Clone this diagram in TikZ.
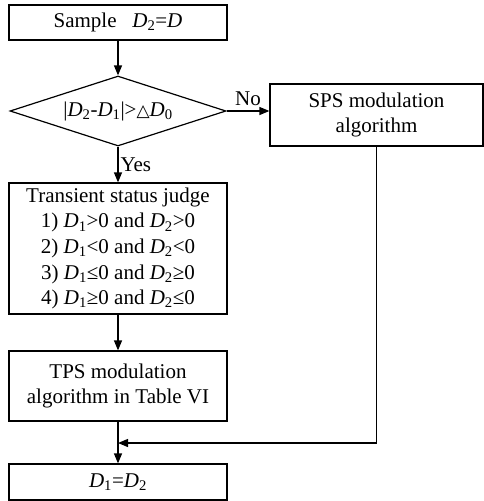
\documentclass[tikz,border=0pt]{standalone}
\usepackage{fontspec}
\setmainfont{Liberation Serif}
\newfontfamily\symfont{DejaVu Sans}
\usetikzlibrary{shapes.geometric,arrows.meta}
\newcommand{\Dv}[1]{\textit{D}\textsubscript{#1}}

\tikzset{
	procbox/.style={draw, line width=1.2pt, minimum width=218pt, align=center, inner sep=0pt},
	decision/.style={draw, diamond, line width=1.2pt, minimum width=216pt, minimum height=70pt, aspect=3.09, inner sep=0pt},
	flow/.style={line width=1.2pt, -{Triangle[length=10pt,width=8pt]}},
}

\begin{document}
\begin{tikzpicture}[x=1pt, y=-1pt, font=\fontsize{21}{25.6}\selectfont]
	\useasboundingbox (0,0) rectangle (484,501);

	\node[procbox, minimum height=35pt] (sample) at (118,22.5) {Sample\ \ \ \Dv{2}=\textit{D}};
	\node[decision] (check) at (118,111) {|\Dv{2}-\Dv{1}|>{\symfont\fontsize{17}{20}\selectfont △}\Dv{0}};
	\node[procbox, minimum width=213pt, minimum height=62pt] (sps) at (376.5,115) {SPS modulation\\algorithm};
	\node[procbox, minimum height=131pt] (judge) at (118,248.5) {Transient status judge\\
		1) \Dv{1}>0 and \Dv{2}>0\\
		2) \Dv{1}<0 and \Dv{2}<0\\
		3) \Dv{1}≤0 and \Dv{2}≥0\\
		4) \Dv{1}≥0 and \Dv{2}≤0};
	\node[procbox, minimum height=70pt] (tps) at (118,386) {TPS modulation\\algorithm in Table VI};
	\node[procbox, minimum height=36pt] (final) at (118,482) {\Dv{1}=\Dv{2}};
	\coordinate (merge) at (118,443);

	% main path
	\draw[flow] (sample) -- (check);
	\draw[flow] (check.east) -- node[above, inner sep=5pt] {No} (check.east -| sps.west);
	\draw[flow] (check) -- node[right, inner sep=2pt] {Yes} (judge);
	\draw[flow] (judge) -- (tps);
	\draw[flow] (tps) -- (final);
	\draw[flow] (sps) |- (merge);
\end{tikzpicture}
\end{document}
